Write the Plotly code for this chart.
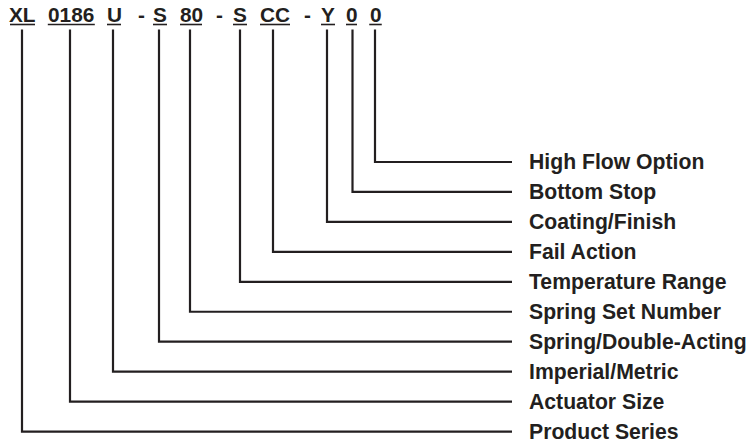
import plotly.graph_objects as go

# ---- data ----
code_tokens = ["XL", "0186", "U", "-", "S", "80", "-", "S", "CC", "-", "Y", "0", "0"]
field_labels = ["Product Series", "Actuator Size", "Imperial/Metric", "Spring/Double-Acting",
                "Spring Set Number", "Temperature Range", "Fail Action", "Coating/Finish",
                "Bottom Stop", "High Flow Option"]

# ---- layout constants (pixel coordinates) ----
token_x = [22.5, 71.3, 114, 141, 160, 191, 219, 240, 275, 307, 328, 351.5, 375.5]
token_w = [25, 47, 14, 6, 14, 22, 6, 14, 30, 6, 14, 11, 12.5]
stem_x = [22, 70, 113, 159, 190, 240, 273, 327, 352.5, 375]
W, H = 746, 442
INK = "#231f20"
TOP_Y = 14.6
UNDER_Y = 24.5
STEM_TOP = 29.5
LINE_END = 512
LABEL_X = 527
ROW0 = 162
ROW_STEP = 29.95

fig = go.Figure()

# elbow connector lines
n = len(stem_x)
xs, ys = [], []
for k, sx in enumerate(stem_x):
    row_y = ROW0 + ROW_STEP * (n - 1 - k)
    xs += [sx, sx, LINE_END, None]
    ys += [STEM_TOP, row_y, row_y, None]
fig.add_trace(go.Scatter(x=xs, y=ys, mode="lines",
                         line=dict(color=INK, width=2.2),
                         hoverinfo="skip", showlegend=False))

# underlines
ux, uy = [], []
for tok, cx, w in zip(code_tokens, token_x, token_w):
    if tok == "-":
        continue
    ux += [cx - w / 2, cx + w / 2, None]
    uy += [UNDER_Y, UNDER_Y, None]
fig.add_trace(go.Scatter(x=ux, y=uy, mode="lines",
                         line=dict(color=INK, width=1.6),
                         hoverinfo="skip", showlegend=False))

font_top = dict(family="Liberation Sans, Arial", size=20.8, color=INK, weight="bold")
for tok, cx in zip(code_tokens, token_x):
    fig.add_annotation(x=cx, y=TOP_Y, text=tok, showarrow=False,
                       xanchor="center", yanchor="middle", font=font_top)

font_lab = dict(family="Liberation Sans, Arial", size=21.2, color=INK, weight="bold")
for k, lab in enumerate(field_labels):
    row_y = ROW0 + ROW_STEP * (n - 1 - k)
    fig.add_annotation(x=LABEL_X, y=row_y, text=lab, showarrow=False,
                       xanchor="left", yanchor="middle", font=font_lab)

fig.update_layout(
    width=W, height=H,
    margin=dict(l=0, r=0, t=0, b=0),
    paper_bgcolor="white", plot_bgcolor="white",
    xaxis=dict(range=[0, W], visible=False, fixedrange=True),
    yaxis=dict(range=[H, 0], visible=False, fixedrange=True),
)

fig.write_html("out.html", config={"displayModeBar": False},
               post_script="document.body.style.margin='0';document.body.style.padding='0';")
